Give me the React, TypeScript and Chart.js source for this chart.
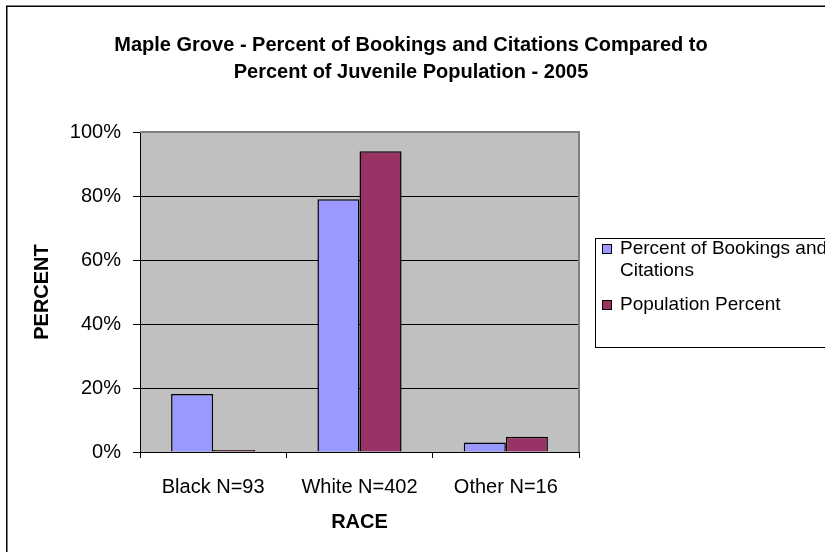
import React, { useEffect, useRef } from "react";
import { Chart, registerables } from "chart.js";

Chart.register(...registerables);

const categories = ["Black N=93", "White N=402", "Other N=16"];
const bookingsPct = [18.1, 79, 3];
const populationPct = [0.6, 94, 4.8];
const seriesNames = ["Percent of Bookings and Citations", "Population Percent"];
const titleLines = [
  "Maple Grove - Percent of Bookings and Citations Compared to",
  "Percent of Juvenile Population - 2005",
];
const yTitle = "PERCENT";
const xTitle = "RACE";

const FONT = '"Liberation Sans", Arial, sans-serif';
const BLUE = "#9999FF";
const RED = "#993366";

const decorPlugin = {
  id: "decor",
  beforeDraw(chart: any) {
    const { ctx, chartArea: a } = chart;
    ctx.save();
    ctx.fillStyle = "#fff";
    ctx.fillRect(0, 0, chart.width, chart.height);
    ctx.fillStyle = "#C0C0C0";
    ctx.fillRect(a.left, a.top, a.right - a.left, a.bottom - a.top);
    ctx.restore();
  },
  beforeDatasetsDraw(chart: any) {
    const { ctx, chartArea: a } = chart;
    ctx.save();
    ctx.strokeStyle = "#808080";
    ctx.lineWidth = 2;
    ctx.beginPath();
    ctx.moveTo(a.left, a.top);
    ctx.lineTo(a.right, a.top);
    ctx.lineTo(a.right, a.bottom);
    ctx.stroke();
    ctx.restore();
  },
  afterDraw(chart: any) {
    const { ctx, chartArea: a } = chart;
    ctx.save();
    // outer border
    ctx.strokeStyle = "#000";
    ctx.lineWidth = 1.5;
    ctx.strokeRect(6.75, 6.25, 900, 900);
    // title
    ctx.fillStyle = "#000";
    ctx.font = `bold 20px ${FONT}`;
    ctx.textAlign = "center";
    ctx.textBaseline = "middle";
    ctx.fillText(titleLines[0], 411, 45);
    ctx.fillText(titleLines[1], 411, 72);
    // x title
    ctx.fillText(xTitle, (a.left + a.right) / 2, 522);
    // y title
    ctx.save();
    ctx.translate(42, (a.top + a.bottom) / 2);
    ctx.rotate(-Math.PI / 2);
    ctx.fillText(yTitle, 0, 0);
    ctx.restore();
    // legend
    const lx = 595, ly = 238, lb = 347;
    ctx.fillStyle = "#fff";
    ctx.fillRect(lx, ly, 300, lb - ly);
    ctx.strokeStyle = "#000";
    ctx.lineWidth = 1;
    ctx.strokeRect(lx + 0.5, ly + 0.5, 400, lb - ly);
    ctx.font = `19px ${FONT}`;
    ctx.textAlign = "left";
    ctx.textBaseline = "middle";
    const items = [
      { color: BLUE, lines: ["Percent of Bookings and", "Citations"], y: 249 },
      { color: RED, lines: [seriesNames[1]], y: 305 },
    ];
    items.forEach((it) => {
      ctx.fillStyle = it.color;
      ctx.fillRect(602, it.y - 5, 10, 10);
      ctx.strokeStyle = "#000";
      ctx.strokeRect(602.5, it.y - 4.5, 9, 9);
      ctx.fillStyle = "#000";
      it.lines.forEach((t, i) => ctx.fillText(t, 620, it.y + i * 22));
    });
    ctx.restore();
  },
};

export default function App() {
  const ref = useRef<HTMLCanvasElement>(null);
  useEffect(() => {
    const chart = new Chart(ref.current!, {
      type: "bar",
      data: {
        labels: categories,
        datasets: [
          {
            label: seriesNames[0],
            data: bookingsPct,
            backgroundColor: BLUE,
            borderColor: "#000",
            borderWidth: 1.5,
          },
          {
            label: seriesNames[1],
            data: populationPct,
            backgroundColor: RED,
            borderColor: "#000",
            borderWidth: 1.5,
          },
        ],
      },
      options: {
        animation: false,
        responsive: false,
        devicePixelRatio: 1,
        layout: { padding: { top: 132, right: 246, left: 0, bottom: 0 } },
        datasets: { bar: { categoryPercentage: 0.575, barPercentage: 1 } },
        plugins: { legend: { display: false }, title: { display: false }, tooltip: { enabled: false } },
        scales: {
          x: {
            afterFit: (s: any) => { s.height = 100; },
            grid: {
              offset: true,
              drawOnChartArea: false,
              tickLength: 6,
              tickColor: "#000",
            },
            border: { color: "#000", width: 1 },
            ticks: { color: "#000", font: { family: FONT, size: 20 }, padding: 17 },
          },
          y: {
            min: 0,
            max: 100,
            afterFit: (s: any) => { s.width = 140; },
            grid: {
              color: (c: any) => (c.tick && c.tick.value === 100 ? "rgba(0,0,0,0)" : "#000"),
              tickColor: "#000",
              tickLength: 7,
            },
            border: { color: "#000", width: 1 },
            ticks: {
              stepSize: 20,
              color: "#000",
              padding: 12,
              font: { family: FONT, size: 20 },
              callback: (v: any) => v + "%",
            },
          },
        },
      },
      plugins: [decorPlugin],
    });
    return () => chart.destroy();
  }, []);
  return (
    <div style={{ position: "fixed", left: 0, top: 0, width: 825, height: 552, overflow: "hidden", background: "#fff" }}>
      <canvas ref={ref} width={825} height={552} style={{ width: 825, height: 552, display: "block" }} />
    </div>
  );
}
